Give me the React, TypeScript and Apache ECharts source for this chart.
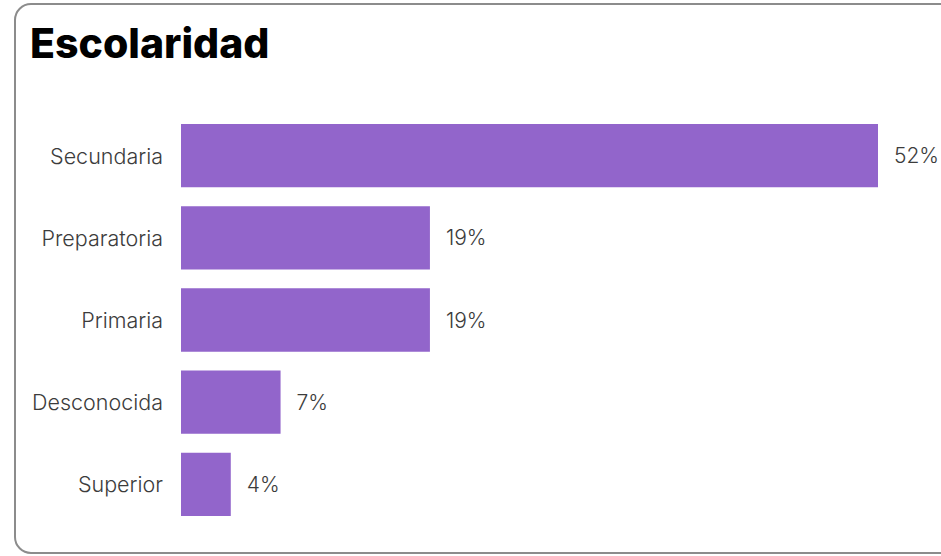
import React, { useEffect, useRef } from "react";
import * as echarts from "echarts";

const categories = ["Secundaria", "Preparatoria", "Primaria", "Desconocida", "Superior"];
const counts = [14, 5, 5, 2, 1];
const percentLabels = ["52%", "19%", "19%", "7%", "4%"];
const titleText = "Escolaridad";

export default function App() {
  const ref = useRef<HTMLDivElement>(null);
  useEffect(() => {
    document.body.style.margin = "0";
    const chart = echarts.init(ref.current!, undefined, { renderer: "svg" });
    chart.setOption({
      animation: false,
      backgroundColor: "#ffffff",
      title: {
        text: titleText,
        left: 25,
        top: 17,
        textStyle: {
          fontFamily: "Inter",
          fontWeight: 800,
          fontSize: 41,
          color: "#000000",
        },
      },
      graphic: [
        {
          type: "rect",
          z: -1,
          shape: { x: 15, y: 4, width: 1000, height: 549, r: 16 },
          style: { fill: "none", stroke: "#8c8c8c", lineWidth: 2 },
        },
      ],
      grid: { left: 181, right: 63, top: 114.5, bottom: 30.5, containLabel: false },
      xAxis: {
        type: "value",
        min: 0,
        max: 14,
        show: false,
      },
      yAxis: {
        type: "category",
        inverse: true,
        data: categories,
        axisLine: { show: false },
        axisTick: { show: false },
        axisLabel: {
          margin: 18,
          fontFamily: "Inter",
          fontWeight: 300,
          fontSize: 21.5,
          color: "#3c3c3c",
        },
      },
      series: [
        {
          type: "bar",
          data: counts,
          barCategoryGap: "23%",
          itemStyle: { color: "#9265CB" },
          label: {
            show: true,
            position: "right",
            distance: 16,
            fontFamily: "Inter",
            fontWeight: 300,
            fontSize: 21,
            color: "#3c3c3c",
            formatter: (p: any) => percentLabels[p.dataIndex],
          },
        },
      ],
    });
    return () => chart.dispose();
  }, []);
  return (
    <div
      ref={ref}
      style={{ position: "fixed", left: 0, top: 0, width: 941, height: 556 }}
    />
  );
}
